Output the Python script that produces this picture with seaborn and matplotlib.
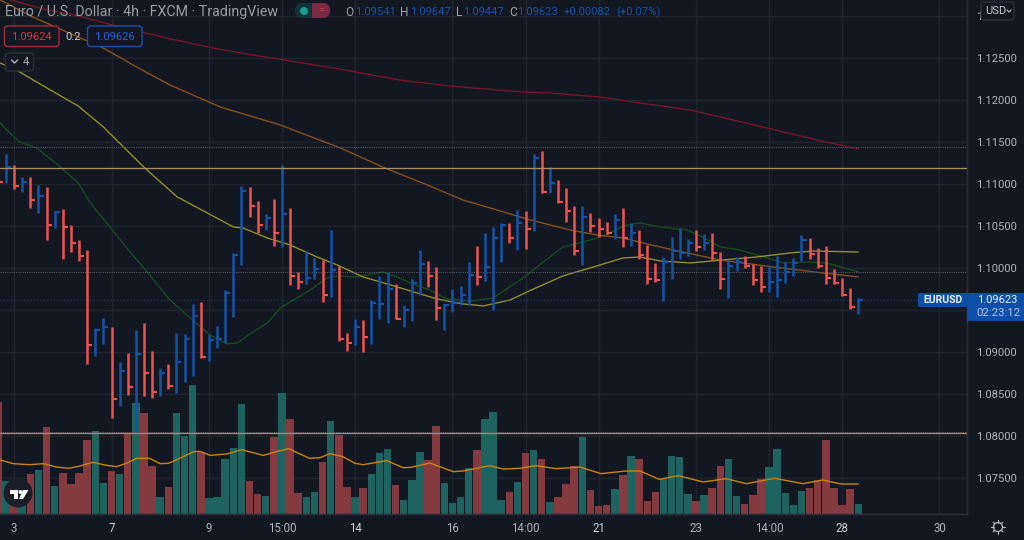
import numpy as np
import pandas as pd
import seaborn as sns
import matplotlib.pyplot as plt
from matplotlib.patches import FancyBboxPatch, Circle, Polygon, Rectangle

BG = "#131722"
GRID = "#20242f"
BORDER = "#2a2e39"
TEXT = "#b2b5be"
BLUE = "#1353a8"
RED = "#ef5350"
VOL_UP = "#1f6360"
VOL_DOWN = "#843a3e"

direction = list("RBRBRBRBRRRRBBRBRBRRBRBBBRBBBBBRRBRBRRBBRBRRBRBBBRBBBRRB"
                 "BBBRBBBRBRBRBRRRBRRRBRBRRRBBBBRBRRBBRRRBBBBBRRRRRRB")
high = [1.11286, 1.11357, 1.11230, 1.11083, 1.11083, 1.10988, 1.10964, 1.10679, 1.10698, 1.10508,
        1.10333, 1.10214, 1.09282, 1.09409, 1.09302, 1.08877, 1.08984, 1.09262, 1.09341, 1.09012,
        1.08814, 1.08857, 1.09222, 1.09214, 1.09567, 1.09591, 1.09210, 1.09306, 1.09738, 1.10179,
        1.10972, 1.10964, 1.10794, 1.10639, 1.10817, 1.11230, 1.10710, 1.09948, 1.10206, 1.10115,
        1.10095, 1.10452, 1.10024, 1.09222, 1.09397, 1.09377, 1.09615, 1.09905, 1.09948, 1.09806,
        1.09560, 1.09865, 1.10214, 1.10087, 1.10008, 1.09571, 1.09750, 1.09786, 1.10071, 1.10262,
        1.10417, 1.10484, 1.10532, 1.10536, 1.10690, 1.10675, 1.11353, 1.11393, 1.11202, 1.11048,
        1.10956, 1.10734, 1.10738, 1.10655, 1.10591, 1.10552, 1.10643, 1.10714, 1.10536, 1.10452,
        1.10274, 1.10060, 1.10131, 1.10365, 1.10472, 1.10345, 1.10448, 1.10401, 1.10413, 1.10186,
        1.10095, 1.10127, 1.10147, 1.10044, 1.10028, 1.10024, 1.10147, 1.10071, 1.10115, 1.10389,
        1.10353, 1.10242, 1.10262, 1.09984, 1.09885, 1.09758, 1.09647]
low = [1.11008, 1.11008, 1.10944, 1.10901, 1.10718, 1.10651, 1.10333, 1.10480, 1.10103, 1.10194,
       1.10083, 1.08853, 1.08956, 1.09095, 1.08210, 1.08357, 1.08488, 1.08048, 1.08480, 1.08449,
       1.08480, 1.08556, 1.08508, 1.08647, 1.08718, 1.08933, 1.08897, 1.09052, 1.09103, 1.09413,
       1.10040, 1.10611, 1.10413, 1.10452, 1.10262, 1.10254, 1.09798, 1.09754, 1.09810, 1.09869,
       1.09599, 1.09659, 1.09127, 1.09016, 1.09083, 1.09000, 1.09091, 1.09397, 1.09349, 1.09389,
       1.09302, 1.09373, 1.09675, 1.09778, 1.09377, 1.09258, 1.09472, 1.09560, 1.09560, 1.09798,
       1.09849, 1.09500, 1.10075, 1.10294, 1.10214, 1.10226, 1.10444, 1.10897, 1.10889, 1.10770,
       1.10552, 1.10151, 1.10032, 1.10425, 1.10373, 1.10409, 1.10341, 1.10254, 1.10262, 1.10103,
       1.09806, 1.09837, 1.09607, 1.09865, 1.10107, 1.10143, 1.10206, 1.10214, 1.10095, 1.09746,
       1.09643, 1.09968, 1.10004, 1.09798, 1.09718, 1.09718, 1.09659, 1.09825, 1.09905, 1.10083,
       1.10107, 1.10004, 1.09806, 1.09810, 1.09671, 1.09508, 1.09447]
close = [1.11028, 1.11198, 1.10976, 1.11020, 1.10809, 1.10861, 1.10512, 1.10667, 1.10492, 1.10294,
         1.10147, 1.09083, 1.09262, 1.09294, 1.08437, 1.08774, 1.08583, 1.08976, 1.08754, 1.08528,
         1.08746, 1.08595, 1.08877, 1.09155, 1.09429, 1.08945, 1.09143, 1.09155, 1.09706, 1.10155,
         1.10921, 1.10742, 1.10512, 1.10591, 1.10413, 1.10643, 1.09909, 1.09833, 1.09877, 1.09992,
         1.09675, 1.09976, 1.09151, 1.09111, 1.09294, 1.09175, 1.09579, 1.09571, 1.09746, 1.09397,
         1.09500, 1.09825, 1.10044, 1.09909, 1.09520, 1.09560, 1.09579, 1.09683, 1.09917, 1.09897,
         1.10016, 1.10353, 1.10516, 1.10353, 1.10532, 1.10464, 1.11309, 1.10909, 1.11008, 1.10782,
         1.10682, 1.10206, 1.10607, 1.10500, 1.10460, 1.10421, 1.10571, 1.10353, 1.10421, 1.10159,
         1.09869, 1.09853, 1.10067, 1.10206, 1.10183, 1.10294, 1.10254, 1.10294, 1.10175, 1.09869,
         1.10028, 1.10071, 1.10024, 1.09853, 1.09778, 1.09837, 1.09857, 1.09956, 1.10056, 1.10333,
         1.10167, 1.10028, 1.09877, 1.09817, 1.09679, 1.09532, 1.09623]
volume = [337, 99, 70, 60, 119, 132, 262, 84, 124, 89, 122, 221, 248, 92, 128, 121, 242, 332, 303, 145,
          52, 80, 303, 234, 387, 187, 48, 52, 165, 197, 330, 98, 60, 54, 232, 362, 286, 63, 52, 65,
          156, 279, 237, 82, 50, 78, 121, 184, 194, 86, 41, 102, 186, 162, 264, 93, 32, 52, 138, 193,
          284, 307, 41, 65, 95, 182, 192, 164, 37, 50, 91, 143, 231, 71, 24, 28, 75, 117, 173, 165,
          39, 65, 104, 173, 171, 60, 39, 58, 78, 143, 164, 54, 30, 57, 104, 141, 195, 63, 28, 69,
          78, 102, 223, 78, 28, 74, 30]

red_x = [0.3, 6.05, 8.9, 14.2, 20.8, 26.5, 31.4, 36.9, 42.1, 49.5, 55.7, 64.7, 68.0, 74.2, 79.1, 85.3, 90.6, 94.8, 100.9, 106]
red_y = [1.13225, 1.13070, 1.13023, 1.12892, 1.12737, 1.12618, 1.12535, 1.12451, 1.12368, 1.12237,
         1.12166, 1.12094, 1.12083, 1.12035, 1.11964, 1.11880, 1.11761, 1.11666, 1.11523, 1.11416]
orange_x = [0.3, 4.3, 13, 17.1, 21.2, 27.4, 34.8, 42.2, 47.7, 52.9, 57.3, 61.5, 65.6, 70.5, 73.8, 77, 80, 83.2, 89, 95.5, 101.7, 106]
orange_y = [1.13189, 1.12987, 1.12618, 1.12392, 1.12178, 1.11916, 1.11702, 1.11428, 1.11190, 1.10988, 1.10809,
            1.10690, 1.10571, 1.10452, 1.10393, 1.10357, 1.10286, 1.10214, 1.10095, 1.10012, 1.09940, 1.09893]
yellow_x = [0.3, 2.7, 6.05, 9.9, 13, 17.1, 18.1, 22.1, 25.8, 29, 30.2, 33.2, 36, 39.3, 41.8, 45, 49.2, 54.1, 57.3, 59.8,
            63.1, 66, 69.6, 73.8, 77, 79.1, 81.6, 85.3, 89.3, 93.5, 97.6, 100.4, 106]
yellow_y = [1.12440, 1.12332, 1.12142, 1.11928, 1.11678, 1.11285, 1.11190, 1.10845, 1.10655, 1.10488, 1.10476,
            1.10357, 1.10274, 1.10131, 1.10036, 1.09893, 1.09774, 1.09631, 1.09572, 1.09548, 1.09619, 1.09750,
            1.09905, 1.10024, 1.10119, 1.10131, 1.10083, 1.10060, 1.10095, 1.10131, 1.10179, 1.10202, 1.10190]
green_x = [0.3, 1.1, 2.7, 4.8, 7.7, 9.9, 11.3, 13.8, 16.3, 18.4, 21.2, 23.7, 26.1, 28.2, 29.5, 31.4, 33.2, 34.8, 36.4,
           38.5, 40.5, 41.8, 44.2, 47.4, 49.2, 50.8, 53.2, 55.3, 58.2, 61, 64.7, 67.2, 69.6, 72.1, 75, 77, 79.1, 81.6,
           84.9, 86.3, 89, 91.4, 94.8, 96.7, 99.7, 102.1, 106]
green_y = [1.11726, 1.11642, 1.11499, 1.11428, 1.11202, 1.11012, 1.10785, 1.10488, 1.10190, 1.09952, 1.09619,
           1.09405, 1.09203, 1.09096, 1.09107, 1.09238, 1.09345, 1.09524, 1.09619, 1.09738, 1.09881, 1.09905,
           1.09893, 1.09952, 1.09893, 1.09821, 1.09738, 1.09631, 1.09607, 1.09643, 1.09881, 1.10071, 1.10250,
           1.10309, 1.10393, 1.10500, 1.10536, 1.10488, 1.10452, 1.10393, 1.10250, 1.10214, 1.10119, 1.10060,
           1.10071, 1.10060, 1.09952]
vol_ma_x = [0.3, 1.9, 3.9, 5.6, 7.2, 8.7, 10.1, 11.7, 13.4, 14.6, 15.8, 17.1, 18.7, 20, 21, 22.4, 24.1, 24.9, 26.1,
            28.2, 30, 32.7, 34.3, 35.8, 38.4, 39.7, 40.9, 42.5, 44, 45, 47.9, 49.9, 50.9, 53.2, 56.1, 57.3, 60.6,
            62.2, 64.3, 66.3, 68.8, 71.7, 74.3, 77.4, 79.1, 81.5, 83.8, 86.9, 89.7, 92.2, 95.7, 99.2, 101.6, 103.9, 106]
vol_ma_y = [162, 151, 148, 151, 141, 137, 144, 155, 146, 142, 152, 167, 167, 151, 152, 167, 187, 188, 176,
            180, 193, 176, 187, 196, 167, 169, 181, 172, 152, 148, 160, 139, 140, 153, 127, 129, 145,
            135, 137, 145, 136, 141, 121, 129, 129, 104, 115, 96, 106, 91, 107, 91, 102, 90, 90]

price_ticks = [1.075, 1.08, 1.085, 1.09, 1.095, 1.10, 1.105, 1.11, 1.115, 1.12, 1.125, 1.13]
# 1.09500 sits behind the last price tag, 1.13000 behind the USD button
price_labels = ["1.07500", "1.08000", "1.08500", "1.09000", "", "1.10000",
                "1.10500", "1.11000", "1.11500", "1.12000", "1.12500", "1"]
time_ticks = [2, 14, 26, 35, 44, 56, 65, 74, 86, 95, 104, 116]
time_labels = ["3", "7", "9", "15:00", "14", "16", "14:00", "21", "23", "14:00", "28", "30"]
strong_labels = ["7", "14", "21", "28"]
level_lines = [1.11190, 1.08032]
dotted_lines = [1.11444, 1.09956, 1.08052]
last_price = 1.09623

sns.set_theme(style="dark")
plt.rcParams["font.family"] = ["Roboto", "DejaVu Sans"]

bars = pd.DataFrame({"bar": np.arange(len(volume)), "volume": volume, "direction": direction,
                     "high": high, "low": low, "close": close})

fig = plt.figure(figsize=(10.24, 5.4), dpi=100, facecolor=BG)
ax_vol = fig.add_axes([0, 26 / 540, 967 / 1024, 514 / 540], facecolor=BG)

# volume sits in the back, price pane is a twin on top of it
sns.barplot(data=bars, x="bar", y="volume", hue="direction", palette={"R": VOL_DOWN, "B": VOL_UP},
            native_scale=True, dodge=False, width=0.92, saturation=1, legend=False,
            edgecolor="none", ax=ax_vol)
sns.lineplot(x=vol_ma_x, y=vol_ma_y, color="#c98510", lw=1.0, estimator=None, sort=False, ax=ax_vol)

ymin, ymax = 1.07071, 1.13190
vol_top = 1542
ax_vol.set_xlim(0.261, 119.39)
ax_vol.set_ylim(0, vol_top)
ax_vol.set_xlabel("")
ax_vol.set_ylabel("")
ax_vol.set_yticks([(p - ymin) / (ymax - ymin) * vol_top for p in price_ticks])
ax_vol.set_yticklabels([])
ax_vol.set_xticks(time_ticks)
ax_vol.set_xticklabels(time_labels, fontsize=8.3)
for lab in ax_vol.get_xticklabels():
    lab.set_color("#d1d4dc" if lab.get_text() in strong_labels else TEXT)
ax_vol.tick_params(axis="both", length=0, pad=6)
ax_vol.grid(True, color=GRID, lw=1)
ax_vol.set_axisbelow(True)

ax = ax_vol.twinx()
ax.set_ylim(ymin, ymax)
ax.set_yticks(price_ticks)
ax.set_yticklabels(price_labels, fontsize=8.1, color=TEXT)
ax.tick_params(axis="y", length=0, pad=6.5)
ax.grid(False)

for xs, ys, col in [(green_x, green_y, "#14501c"),
                    (yellow_x, yellow_y, "#9a9428"),
                    (orange_x, orange_y, "#8c541c"),
                    (red_x, red_y, "#7d1522")]:
    sns.lineplot(x=xs, y=ys, color=col, lw=0.95, estimator=None, sort=False, ax=ax)

colors = bars["direction"].map({"R": RED, "B": BLUE})
ax.vlines(bars["bar"], bars["low"], bars["high"], colors=colors, lw=1.8, zorder=4)
ax.hlines(bars["close"], bars["bar"], bars["bar"] + 0.62, colors=colors, lw=1.5, zorder=4)

for p in dotted_lines:
    ax.axhline(p, color="#565963", lw=0.8, ls=(0, (1, 1)), zorder=3)
ax.axhline(last_price, color=BLUE, lw=0.8, ls=(0, (1, 2)), alpha=0.6, zorder=3)
for p in level_lines:
    ax.axhline(p, color="#ab8f64", lw=0.95, zorder=5)

for a in (ax_vol, ax):
    for side in ("left", "top"):
        a.spines[side].set_visible(False)
    for side in ("right", "bottom"):
        a.spines[side].set_color(BORDER)
        a.spines[side].set_linewidth(1)

# chart chrome, everything below is in pixels
ui = fig.add_axes([0, 0, 1, 1], facecolor="none")
ui.set_xlim(0, 1024)
ui.set_ylim(540, 0)
ui.axis("off")


def box(x0, y0, x1, y1, edge, face=BG, r=3, lw=1):
    ui.add_patch(FancyBboxPatch((x0, y0), x1 - x0, y1 - y0, boxstyle=f"round,pad=0,rounding_size={r}",
                                ec=edge, fc=face, lw=lw))


def label(x, y, s, color=TEXT, size=8.1, **kw):
    ui.text(x, y, s, color=color, fontsize=size, va="center", **kw)


label(5, 12, "Euro / U.S. Dollar · 4h · FXCM · TradingView", size=10.3, color="#9a9da6")

ui.add_patch(FancyBboxPatch((295, 3), 35, 15, boxstyle="round,pad=0,rounding_size=7.5", ec="none", fc="#10343a"))
ui.add_patch(FancyBboxPatch((312, 3), 18, 15, boxstyle="round,pad=0,rounding_size=7", ec="none", fc="#7a2a42"))
ui.add_patch(Rectangle((312, 3), 6, 15, ec="none", fc="#7a2a42"))
ui.add_patch(Circle((304, 11), 4, ec="none", fc="#1a9e8c"))
ui.text(321, 10.5, "=", color="#d9434f", fontsize=8, ha="center", va="center")

box(4.5, 26, 59, 46.5, "#a62c35")
label(31.5, 36.5, "1.09624", color="#d4363f", ha="center")
label(73, 36.5, "0.2", color="#c8cad0", ha="center")
box(87.5, 26, 142, 46.5, "#1d4fb0")
label(114.5, 36.5, "1.09626", color="#2a62d8", ha="center")
box(5.5, 53, 33.5, 71, BORDER)
ui.plot([11.5, 14.5, 17.5], [60, 63, 60], color=TEXT, lw=1)
label(26, 62, "4", ha="center")

ohlc = [(345, "O", 355, "1.09541"), (400, "H", 410, "1.09647"), (456, "L", 463, "1.09447"), (509, "C", 517, "1.09623")]
for x0, letter, x1, value in ohlc:
    label(x0, 12, letter, size=8.6, color="#a0a3ac")
    label(x1, 12, value, color=BLUE)
label(564, 12, "+0.00082", color=BLUE)
label(616, 12, "(+0.07%)", color=BLUE)

box(981, 2, 1014, 20, BORDER)
label(985, 11, "USD", size=8, color="#c8cad0")
ui.plot([1007, 1009, 1011], [10, 12, 10], color=TEXT, lw=0.9)

ui.add_patch(FancyBboxPatch((918, 293), 60, 14, boxstyle="round,pad=0,rounding_size=1.5", ec="none", fc="#0d4ea6"))
ui.add_patch(Rectangle((967, 293), 57, 28, ec="none", fc="#0d4ea6"))
label(923, 300, "EURUSD", color="#f0f3fa", size=7.5, fontweight="bold")
label(977, 300, "1.09623", color="#f0f3fa", size=8)
label(976, 313.5, "02:23:12", color="#b8c8e6", size=8.2)

# logo and settings sun
ui.add_patch(Circle((18, 493), 14.5, ec="none", fc="#1b1e27"))
ui.add_patch(Polygon([(9.5, 490), (17.5, 490), (17.5, 499), (13.5, 499), (13.5, 494), (9.5, 494)], fc="white", ec="none"))
ui.add_patch(Circle((20.5, 492), 2, fc="white", ec="none"))
ui.add_patch(Polygon([(23, 490), (28.5, 490), (23, 499), (19, 499)], fc="white", ec="none"))
ui.add_patch(Circle((998, 527), 4.5, ec=TEXT, fc="none", lw=0.9))
for ang in np.arange(0, 360, 45):
    c, s = np.cos(np.radians(ang)), np.sin(np.radians(ang))
    ui.plot([998 + 4.5 * c, 998 + 6.8 * c], [527 + 4.5 * s, 527 + 6.8 * s], color=TEXT, lw=0.9)

fig.savefig("out.png", dpi=100, facecolor=BG)
